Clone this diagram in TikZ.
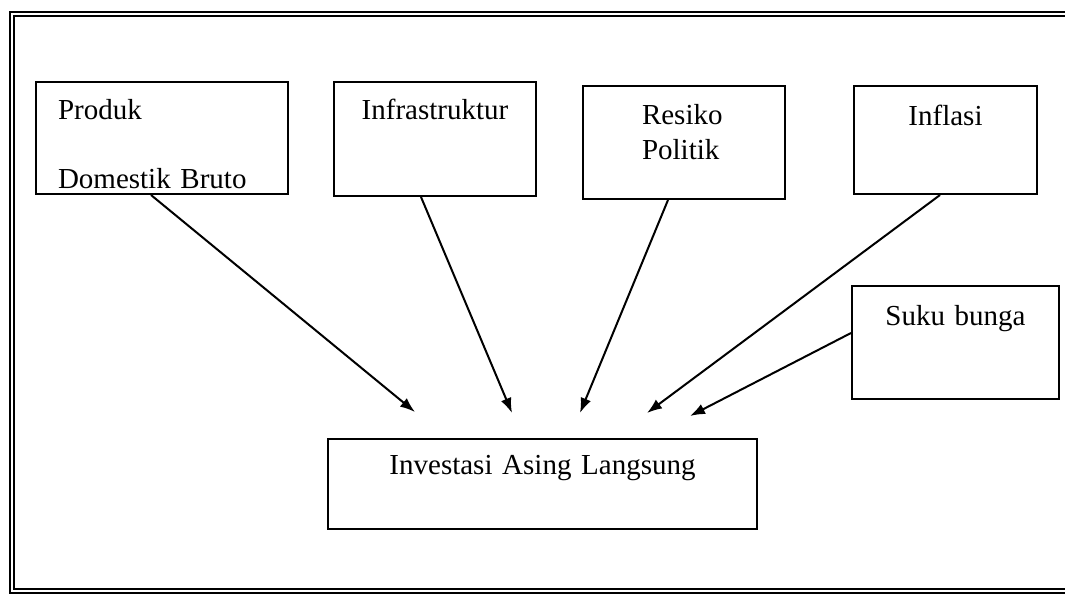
\documentclass[tikz,border=0pt]{standalone}
\usepackage{fontspec}
\setmainfont{Liberation Serif}
\usetikzlibrary{arrows.meta, positioning, calc}

\begin{document}
\begin{tikzpicture}[
    x=1pt, y=-1pt,
    font=\fontsize{29}{35}\selectfont,
    box/.style={draw, line width=2pt, inner xsep=0pt, inner ysep=0pt, anchor=north west},
    frame/.style={draw, double, double distance=2.5pt, line width=1.5pt},
    arrow/.style={-{Latex[length=15pt, width=11pt]}, line width=2pt}
]
  \path[use as bounding box, clip] (0,0) rectangle (1065,594);
  \draw[frame] (1075,14) -- (12,14) -- (12,591) -- (1075,591);

  \node[box, inner xsep=22pt, text width=208pt, align=left, text height=37pt, text depth=75pt] (pdb) at (35,81) {Produk\\[34pt]Domestik Bruto};
  \node[box, right=44pt of pdb.north east, anchor=north west, text width=202pt, align=center, text height=37pt, text depth=77pt] (infra) {Infrastruktur};
  \node[box, right=45pt of infra.north east, anchor=north west, yshift=-4pt, inner xsep=59pt, text width=84pt, align=left, text height=38pt, text depth=75pt] (resiko) {Resiko\\Politik};
  \node[box, right=67pt of resiko.north east, anchor=north west, text width=183pt, align=center, text height=39pt, text depth=69pt] (inflasi) {Inflasi};
  \node[box, below=90pt of inflasi.south west, anchor=north west, xshift=-2pt, text width=207pt, align=center, text height=39pt, text depth=74pt] (suku) {Suku bunga};

  \node[box, text width=429pt, align=center, text height=35pt, text depth=55pt] (ias) at (327,438) {Investasi Asing Langsung};

  \coordinate (t1) at (415,412);
  \coordinate (t2) at (512,413);
  \coordinate (t3) at (580,413);
  \coordinate (t4) at (647,413);
  \coordinate (t5) at (690,416);

  \draw[arrow] ($(pdb.south)+(-11,0)$) -- (t1);
  \draw[arrow] ($(infra.south)+(-14,0)$) -- (t2);
  \draw[arrow] ($(resiko.south)+(-16,0)$) -- (t3);
  \draw[arrow] ($(inflasi.south)+(-5.5,0)$) -- (t4);
  \draw[arrow] ($(suku.west)+(0,-9.5)$) -- (t5);
\end{tikzpicture}
\end{document}
